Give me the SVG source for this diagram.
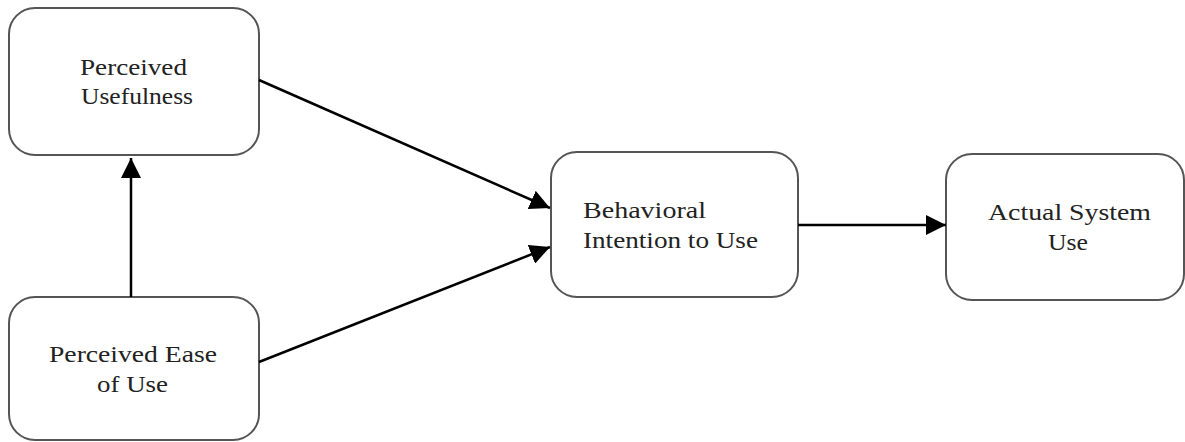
<svg xmlns="http://www.w3.org/2000/svg" width="1185" height="442" viewBox="0 0 1185 442">
<style>
.box{fill:#fff;stroke:#555;stroke-width:2}
text{font-family:"Times New Roman",Times,"DejaVu Serif","Liberation Serif",serif;font-size:23px;fill:#222}
.c{text-anchor:middle}
.edge{stroke:#000;stroke-width:2.5;fill:none}
</style>
<defs>
<marker id="ah" viewBox="0 0 20 20" refX="20" refY="10" markerUnits="userSpaceOnUse" markerWidth="20" markerHeight="20" orient="auto">
<path d="M0,0 L20,10 L0,20 Z" fill="#000"/>
</marker>
</defs>
<rect width="1185" height="442" fill="#fff"/>
<g id="pu">
<rect class="box" x="9" y="8" width="250" height="147" rx="26"/>
<text class="c" x="133.5" y="75" textLength="107" lengthAdjust="spacingAndGlyphs">Perceived</text>
<text class="c" x="137" y="104" textLength="112" lengthAdjust="spacingAndGlyphs">Usefulness</text>
</g>
<g id="peou">
<rect class="box" x="9" y="297" width="250" height="143" rx="26"/>
<text class="c" x="133" y="362" textLength="168" lengthAdjust="spacingAndGlyphs">Perceived Ease</text>
<text class="c" x="132.5" y="392" textLength="71" lengthAdjust="spacingAndGlyphs">of Use</text>
</g>
<g id="biu">
<rect class="box" x="551" y="152" width="247" height="145" rx="26"/>
<text x="583" y="218" textLength="123" lengthAdjust="spacingAndGlyphs">Behavioral</text>
<text x="583" y="248" textLength="175" lengthAdjust="spacingAndGlyphs">Intention to Use</text>
</g>
<g id="asu">
<rect class="box" x="946" y="154" width="238" height="146" rx="26"/>
<text class="c" x="1069.5" y="220" textLength="163" lengthAdjust="spacingAndGlyphs">Actual System</text>
<text class="c" x="1068" y="250" textLength="40" lengthAdjust="spacingAndGlyphs">Use</text>
</g>
<g id="connectors">
<line class="edge" x1="131" y1="297" x2="131" y2="158" marker-end="url(#ah)"/>
<line class="edge" x1="259" y1="80" x2="550" y2="208" marker-end="url(#ah)"/>
<line class="edge" x1="259" y1="362" x2="550" y2="247" marker-end="url(#ah)"/>
<line class="edge" x1="798" y1="225" x2="946" y2="225" marker-end="url(#ah)"/>
</g>
</svg>
